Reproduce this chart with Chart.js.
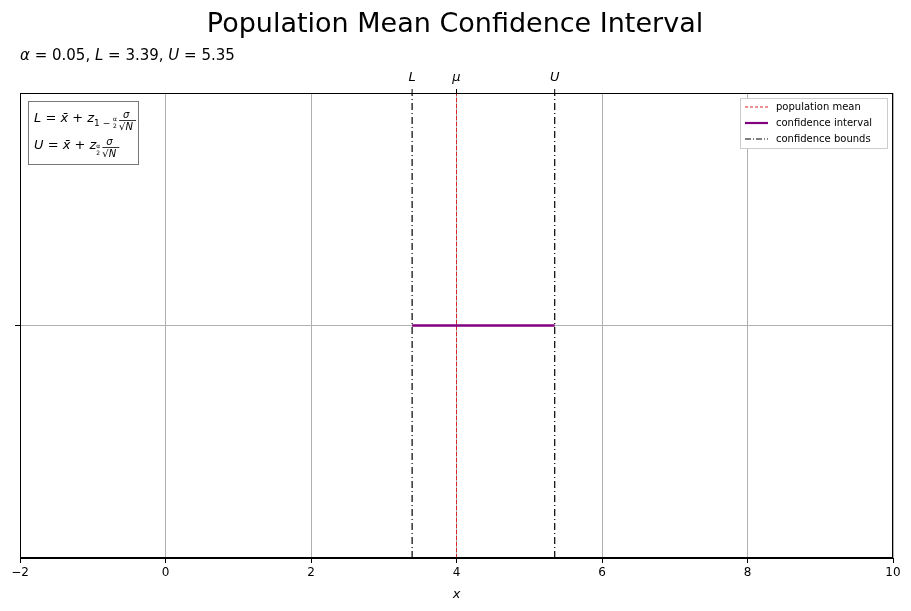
<!DOCTYPE html>
<html>
<head>
<meta charset="utf-8">
<script src="https://cdn.jsdelivr.net/npm/chart.js@4"></script>
<style>
  html, body { margin: 0; padding: 0; background: #fff; }
  #wrap { width: 911px; height: 611px; }
</style>
</head>
<body>
<div id="wrap"><canvas id="ciChart" width="911" height="611"></canvas></div>
<script>
const alpha = 0.05;
const popMean = 4;
const lower = 3.39;
const upper = 5.35;
const xTicks = [-2, 0, 2, 4, 6, 8, 10];
const topLabels = [
    { value: lower, text: "L" },
    { value: popMean, text: "μ" },
    { value: upper, text: "U" }
];

const FONT = "'DejaVu Sans', sans-serif";

const overlayPlugin = {
    id: "overlay",
    afterDraw(chart) {
        const ctx = chart.ctx;
        const area = chart.chartArea;
        const xs = chart.scales.x;
        ctx.save();
        // title
        ctx.fillStyle = "#000";
        ctx.textAlign = "center";
        ctx.textBaseline = "alphabetic";
        ctx.font = "27px " + FONT;
        ctx.fillText("Population Mean Confidence Interval", 455, 32);
        // subtitle
        ctx.textAlign = "left";
        let x = 20;
        const parts = [["α", true], [" = 0.05, ", false], ["L", true], [" = 3.39, ", false], ["U", true], [" = 5.35", false]];
        parts.forEach(p => {
            ctx.font = (p[1] ? "italic " : "") + "15px " + FONT;
            ctx.fillText(p[0], x, 60);
            x += ctx.measureText(p[0]).width;
        });
        // top tick labels
        ctx.textAlign = "center";
        ctx.font = "italic 13px " + FONT;
        topLabels.forEach(t => {
            const px = xs.getPixelForValue(t.value);
            ctx.fillText(t.text, px, 81);
            ctx.beginPath();
            ctx.moveTo(px, area.top);
            ctx.lineTo(px, area.top - 4);
            ctx.strokeStyle = "#000";
            ctx.lineWidth = 1;
            ctx.stroke();
        });
        // frame
        ctx.strokeStyle = "#000";
        ctx.lineWidth = 1;
        ctx.strokeRect(area.left + 0.5, area.top + 0.5, area.right - area.left - 1, area.bottom - area.top - 1);

        // formula box
        ctx.fillStyle = "#fff";
        ctx.fillRect(28, 101, 110, 63);
        ctx.strokeStyle = "#777";
        ctx.strokeRect(28.5, 101.5, 110, 63);
        ctx.fillStyle = "#000";
        ctx.textAlign = "left";
        function formula(y, letter, sub) {
            let cx = 34;
            ctx.font = "italic 13px " + FONT;
            ctx.fillText(letter, cx, y); cx += ctx.measureText(letter).width;
            ctx.font = "13px " + FONT;
            ctx.fillText(" = ", cx, y); cx += ctx.measureText(" = ").width;
            ctx.font = "italic 13px " + FONT;
            ctx.fillText("x̄", cx, y); cx += ctx.measureText("x̄").width;
            ctx.font = "13px " + FONT;
            ctx.fillText(" + ", cx, y); cx += ctx.measureText(" + ").width;
            ctx.font = "italic 13px " + FONT;
            ctx.fillText("z", cx, y); cx += ctx.measureText("z").width;
            ctx.font = "9px " + FONT;
            ctx.fillText(sub, cx, y + 4); cx += ctx.measureText(sub).width;
            ctx.font = "6px " + FONT;
            ctx.fillText("α", cx, y - 1);
            ctx.fillText("2", cx, y + 6);
            cx += 6;
            ctx.font = "italic 10px " + FONT;
            ctx.fillText("σ", cx + 4, y - 4);
            ctx.fillRect(cx, y - 2, 17, 0.8);
            ctx.fillText("√N", cx, y + 8);
        }
        formula(122, "L", "1 − ");
        formula(149, "U", "");

        // legend
        ctx.fillStyle = "#fff";
        ctx.fillRect(740, 98, 147, 50);
        ctx.strokeStyle = "#ccc";
        ctx.strokeRect(740.5, 98.5, 147, 50);
        const items = [
            ["population mean", "#d62728", [3, 2], 1],
            ["confidence interval", "purple", [], 2.2],
            ["confidence bounds", "#000", [6, 2, 1, 2], 1.2]
        ];
        ctx.font = "10px " + FONT;
        items.forEach((it, i) => {
            const y = 107 + i * 16;
            ctx.beginPath();
            ctx.setLineDash(it[2]);
            ctx.strokeStyle = it[1];
            ctx.lineWidth = it[3];
            ctx.moveTo(745, y);
            ctx.lineTo(768, y);
            ctx.stroke();
            ctx.setLineDash([]);
            ctx.fillStyle = "#000";
            ctx.textBaseline = "middle";
            ctx.fillText(it[0], 776, y);
        });
        ctx.restore();
    }
};

new Chart(document.getElementById("ciChart"), {
    type: "scatter",
    data: {
        datasets: [
            { label: "population mean", data: [{ x: popMean, y: -1 }, { x: popMean, y: 1 }], order: 3,
              showLine: true, borderColor: "#d62728", borderWidth: 1, borderDash: [4, 2], pointRadius: 0 },
            { label: "confidence bounds", data: [{ x: lower, y: -1 }, { x: lower, y: 1 }], order: 2,
              showLine: true, borderColor: "#000", borderWidth: 1.2, borderDash: [7, 3, 1, 3], pointRadius: 0 },
            { label: "confidence bounds", data: [{ x: upper, y: -1 }, { x: upper, y: 1 }], order: 2,
              showLine: true, borderColor: "#000", borderWidth: 1.2, borderDash: [7, 3, 1, 3], pointRadius: 0 },
            { label: "confidence interval", data: [{ x: lower, y: 0 }, { x: upper, y: 0 }], order: 1,
              showLine: true, borderColor: "purple", borderWidth: 2.5, pointRadius: 0 }
        ]
    },
    options: {
        responsive: false,
        animation: false,
        layout: { padding: { top: 93, right: 18, left: 0, bottom: 9 } },
        plugins: { legend: { display: false }, tooltip: { enabled: false } },
        scales: {
            x: {
                type: "linear", min: -2, max: 10,
                afterBuildTicks: s => { s.ticks = xTicks.map(v => ({ value: v })); },
                afterFit: s => { s.height = 44; },
                grid: { color: "#b0b0b0", tickColor: "#000", tickLength: 5 },
                border: { color: "#000" },
                ticks: { color: "#000", font: { family: FONT, size: 12 },
                         callback: v => String(v).replace("-", "−") },
                title: { display: true, text: "x", color: "#000", padding: 0,
                         font: { family: FONT, size: 13, style: "italic" } }
            },
            y: {
                min: -1, max: 1,
                afterBuildTicks: s => { s.ticks = [{ value: 0 }]; },
                afterFit: s => { s.width = 20; },
                grid: { color: "#b0b0b0", tickColor: "#000", tickLength: 5 },
                border: { color: "#000" },
                ticks: { callback: () => "" }
            }
        }
    },
    plugins: [overlayPlugin]
});
</script>
</body>
</html>
